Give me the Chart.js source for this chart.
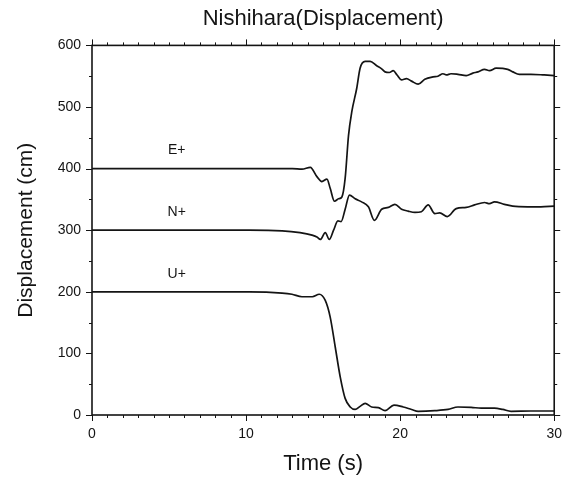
<!DOCTYPE html>
<html>
<head>
<meta charset="utf-8">
<script src="https://cdn.jsdelivr.net/npm/chart.js@4.4.0/dist/chart.umd.min.js"></script>
<style>
  html, body { margin: 0; padding: 0; background: #fff; overflow: hidden; }
</style>
</head>
<body>
<canvas id="disp" width="573" height="480"></canvas>
<script>
// Nishihara station, displacement traces (cm)
const traceNames = ['E+', 'N+', 'U+'];

const eTime = [0, 10, 13, 13.63, 14.17, 14.6, 14.92, 15.25, 15.46, 15.74, 16.0, 16.22, 16.43, 16.65, 16.86, 17.18, 17.4, 17.73, 18.05, 18.48, 18.8, 19.02, 19.3, 19.55, 19.8, 20.09, 20.41, 20.74, 21.17, 21.6, 22.14, 22.45, 22.78, 23.0, 23.3, 23.75, 24.29, 24.72, 25.05, 25.48, 25.8, 26.23, 26.98, 27.31, 27.74, 28.49, 29.35, 30];
const eDisp = [400, 400, 400, 399, 402, 387, 379, 383, 368, 347, 351, 354, 384, 454, 492, 530, 563, 574, 574, 567, 562, 557, 556, 559, 552, 544, 546, 542, 537, 545, 549, 550, 554, 552, 554, 553, 551, 555, 557, 561, 559, 563, 561, 557, 553, 553, 552, 551];

const nTime = [0, 10.2, 12.34, 13.5, 14.28, 14.6, 14.82, 15.14, 15.4, 15.68, 15.96, 16.17, 16.43, 16.71, 17.08, 17.5, 17.94, 18.33, 18.8, 19.23, 19.66, 20.09, 20.52, 20.96, 21.38, 21.82, 22.25, 22.57, 23.06, 23.64, 24.29, 24.83, 25.48, 25.8, 26.12, 26.77, 27.31, 28.27, 29.13, 30];
const nDisp = [300, 300, 299, 296, 292, 289, 285, 296, 285, 300, 315, 314, 334, 357, 351, 346, 338, 316, 334, 337, 342, 334, 331, 329, 330, 341, 327, 328, 322, 335, 337, 341, 345, 343, 346, 342, 339, 338, 338, 339];

const uTime = [0, 10.2, 12.34, 12.98, 13.63, 14.3, 14.75, 15.14, 15.46, 15.79, 16.11, 16.43, 16.76, 17.08, 17.4, 17.73, 18.15, 18.59, 19.02, 19.6, 20.2, 20.74, 21.17, 22.25, 23.11, 23.75, 24.61, 25.26, 26.12, 26.66, 27.2, 28.49, 30];
const uDisp = [200, 200, 198, 196, 192, 192, 196, 186, 159, 110, 62, 27, 13, 9, 14, 19, 13, 12, 7, 16, 13, 9, 6, 7, 9, 13, 12.5, 11, 11, 9, 6, 6.5, 6.5];

const xTicks = [0, 10, 20, 30];
const yTicks = [0, 100, 200, 300, 400, 500, 600];
const xMinorStep = 1;
const yMinorStep = 50;
const labelTime = 5.5; // where the trace names sit

const ink = '#141414';
const FONT = "'Liberation Sans', Arial, Helvetica, sans-serif";

function toPoints(t, v) {
    return t.map((x, i) => ({ x: x, y: v[i] }));
}

// frame and ticks on all four sides, pointing outwards, plus trace names
const frameTicks = {
    id: 'frameTicks',
    afterDraw(chart) {
        const ctx = chart.ctx;
        const { left, right, top, bottom } = chart.chartArea;
        const xs = chart.scales.x, ys = chart.scales.y;
        ctx.save();
        ctx.strokeStyle = ink;
        ctx.lineWidth = 1.6;
        ctx.strokeRect(left, top, right - left, bottom - top);
        ctx.lineWidth = 1;
        ctx.beginPath();
        for (let t = xs.min; t <= xs.max; t += xMinorStep) {
            const len = xTicks.includes(t) ? 6 : 3;
            const px = Math.round(xs.getPixelForValue(t)) + 0.5;
            ctx.moveTo(px, bottom); ctx.lineTo(px, bottom + len);
            ctx.moveTo(px, top); ctx.lineTo(px, top - len);
        }
        for (let v = ys.min; v <= ys.max; v += yMinorStep) {
            const len = yTicks.includes(v) ? 6 : 3;
            const py = Math.round(ys.getPixelForValue(v)) + 0.5;
            ctx.moveTo(left, py); ctx.lineTo(left - len, py);
            ctx.moveTo(right, py); ctx.lineTo(right + len, py);
        }
        ctx.stroke();

        ctx.fillStyle = ink;
        ctx.font = '14px ' + FONT;
        ctx.textAlign = 'center';
        ctx.textBaseline = 'middle';
        chart.data.datasets.forEach(ds => {
            const py = ys.getPixelForValue(ds.data[0].y) - 18;
            ctx.fillText(ds.label, xs.getPixelForValue(labelTime), py);
        });
        ctx.restore();
    }
};

const series = [toPoints(eTime, eDisp), toPoints(nTime, nDisp), toPoints(uTime, uDisp)];

new Chart(document.getElementById('disp'), {
    type: 'line',
    data: {
        datasets: series.map((pts, i) => ({
            label: traceNames[i],
            data: pts,
            borderColor: ink,
            backgroundColor: ink,
            borderWidth: 1.7,
            pointRadius: 0,
            fill: false,
            cubicInterpolationMode: 'monotone'
        }))
    },
    options: {
        responsive: false,
        animation: false,
        layout: { padding: { right: 16 } },
        plugins: {
            legend: { display: false },
            tooltip: { enabled: false },
            title: {
                display: true,
                fullSize: false,
                text: 'Nishihara(Displacement)',
                color: ink,
                font: { family: FONT, size: 22, weight: 'normal' },
                padding: { top: 6, bottom: 13 }
            }
        },
        scales: {
            x: {
                type: 'linear',
                min: 0,
                max: 30,
                afterBuildTicks: s => { s.ticks = xTicks.map(v => ({ value: v })); },
                afterFit: s => { s.height = 65; },
                grid: { display: false, drawTicks: false },
                border: { display: false },
                ticks: { color: ink, font: { family: FONT, size: 14 }, padding: 11, maxRotation: 0 },
                title: {
                    display: true,
                    text: 'Time (s)',
                    color: ink,
                    font: { family: FONT, size: 22 },
                    padding: { top: 0, bottom: 3 }
                }
            },
            y: {
                type: 'linear',
                min: 0,
                max: 600,
                afterBuildTicks: s => { s.ticks = yTicks.map(v => ({ value: v })); },
                afterFit: s => { s.width = 92; },
                grid: { display: false, drawTicks: false },
                border: { display: false },
                ticks: { color: ink, font: { family: FONT, size: 14 }, padding: 11 },
                title: {
                    display: true,
                    text: 'Displacement (cm)',
                    color: ink,
                    font: { family: FONT, size: 21 },
                    padding: { top: 14, bottom: 0 }
                }
            }
        }
    },
    plugins: [frameTicks]
});
</script>
</body>
</html>
